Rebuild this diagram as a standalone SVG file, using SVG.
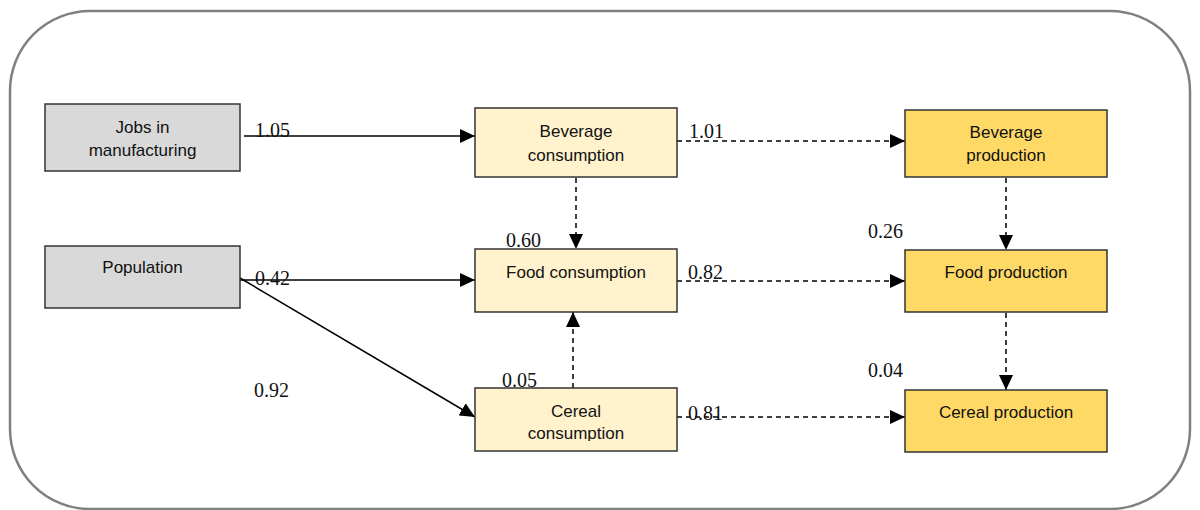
<svg xmlns="http://www.w3.org/2000/svg" width="1200" height="510" viewBox="0 0 1200 510">
<style>
.frame{fill:#fff;stroke:#808080;stroke-width:2.5}
.box{stroke:#333;stroke-width:1.5}
.grey{fill:#d9d9d9}
.cons{fill:#fff2cc}
.prod{fill:#ffd966}
.lbl{font-family:"Liberation Sans",Arial,sans-serif;font-size:17px;fill:#111;text-anchor:middle}
.num{font-family:"Liberation Serif","Times New Roman",serif;font-size:20px;fill:#111}
.solid{stroke:#000;stroke-width:1.5;fill:none}
.dash{stroke:#000;stroke-width:1.5;fill:none;stroke-dasharray:5,4}
</style>
<defs>
<marker id="ah" markerUnits="userSpaceOnUse" markerWidth="16" markerHeight="14" refX="15" refY="7" orient="auto">
<path d="M0,0 L15,7 L0,14 Z" fill="#000"/>
</marker>
<clipPath id="cc"><rect x="475" y="388" width="202" height="53"/></clipPath>
</defs>
<rect class="frame" x="10" y="11" width="1180" height="498" rx="80" ry="80"/>
<g id="connectors">
<line class="solid" x1="244" y1="136" x2="475" y2="136" marker-end="url(#ah)"/>
<line class="solid" x1="240" y1="280" x2="475" y2="280" marker-end="url(#ah)"/>
<line class="solid" x1="240" y1="278" x2="475" y2="417" marker-end="url(#ah)"/>
<line class="dash" x1="576" y1="178" x2="576" y2="249" marker-end="url(#ah)"/>
<line class="dash" x1="573" y1="388" x2="573" y2="312" marker-end="url(#ah)"/>
<line class="dash" x1="677" y1="141" x2="905" y2="141" marker-end="url(#ah)"/>
<line class="dash" x1="677" y1="281" x2="905" y2="281" marker-end="url(#ah)"/>
<line class="dash" x1="677" y1="417" x2="905" y2="417" marker-end="url(#ah)"/>
<line class="dash" x1="1006" y1="178" x2="1006" y2="250" stroke-width="2.2" marker-end="url(#ah)"/>
<line class="dash" x1="1006" y1="313" x2="1006" y2="390" marker-end="url(#ah)"/>
</g>
<g id="labels">
<text class="num" x="255" y="137">1.05</text>
<text class="num" x="255" y="285">0.42</text>
<text class="num" x="254" y="397">0.92</text>
<text class="num" x="506" y="247">0.60</text>
<text class="num" x="502" y="387">0.05</text>
<text class="num" x="689" y="138">1.01</text>
<text class="num" x="688" y="279">0.82</text>
<text class="num" x="688" y="420">0.81</text>
<text class="num" x="868" y="238">0.26</text>
<text class="num" x="868" y="377">0.04</text>
</g>
<g id="jobs">
<rect class="box grey" x="45" y="104" width="195" height="67"/>
<text class="lbl" x="142.5" y="133">Jobs in</text>
<text class="lbl" x="142.5" y="156">manufacturing</text>
</g>
<g id="population">
<rect class="box grey" x="45" y="246" width="195" height="62"/>
<text class="lbl" x="142.5" y="273">Population</text>
</g>
<g id="bev-cons">
<rect class="box cons" x="475" y="108" width="202" height="69"/>
<text class="lbl" x="576" y="137">Beverage</text>
<text class="lbl" x="576" y="161">consumption</text>
</g>
<g id="food-cons">
<rect class="box cons" x="475" y="249" width="202" height="63"/>
<text class="lbl" x="576" y="278">Food consumption</text>
</g>
<g id="cereal-cons">
<rect class="box cons" x="475" y="388" width="202" height="63"/>
<text class="lbl" x="576" y="417">Cereal</text>
<text class="lbl" x="576" y="439" clip-path="url(#cc)">consumption</text>
</g>
<g id="bev-prod">
<rect class="box prod" x="905" y="110" width="202" height="67"/>
<text class="lbl" x="1006" y="138">Beverage</text>
<text class="lbl" x="1006" y="161">production</text>
</g>
<g id="food-prod">
<rect class="box prod" x="905" y="250" width="202" height="62"/>
<text class="lbl" x="1006" y="278">Food production</text>
</g>
<g id="cereal-prod">
<rect class="box prod" x="905" y="390" width="202" height="62"/>
<text class="lbl" x="1006" y="418">Cereal production</text>
</g>
</svg>
